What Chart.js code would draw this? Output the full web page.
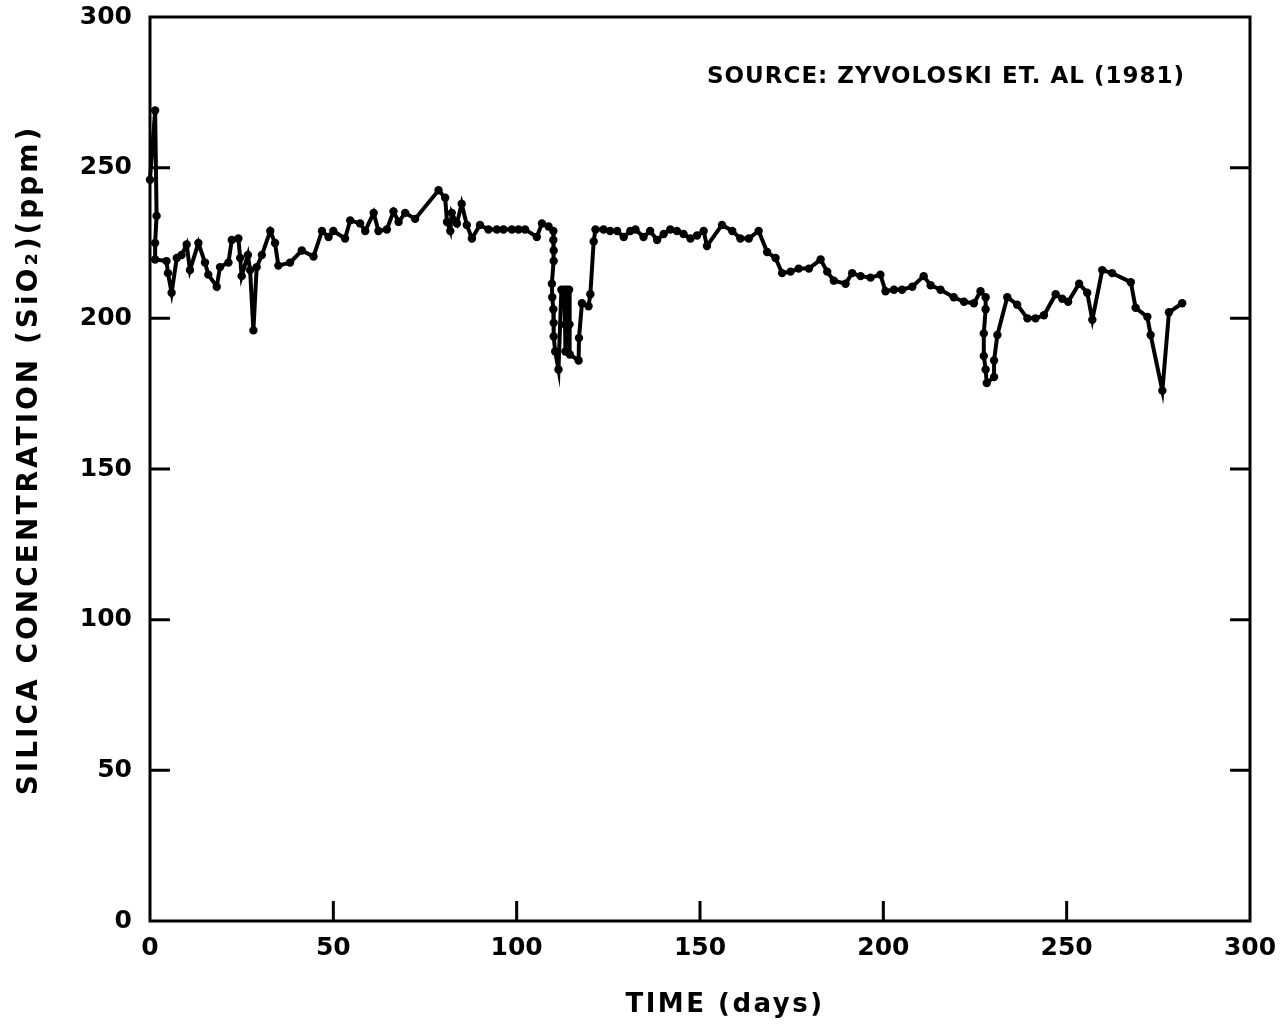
<!DOCTYPE html>
<html>
<head>
<meta charset="utf-8">
<script src="https://cdn.jsdelivr.net/npm/chart.js@4.4.1/dist/chart.umd.min.js"></script>
<style>
  html, body { margin: 0; padding: 0; background: #fff; }
  canvas { display: block; }
</style>
</head>
<body>
<canvas id="silicaChart" width="1282" height="1028"></canvas>
<script>
// Silica concentration vs time
const days = [
  0, 1.4, 1.8, 1.4, 1.4, 4.5, 4.9, 5.9, 7.3, 8.6,
  10.0, 10.9, 13.2, 15.0, 15.9, 18.2, 19.1, 21.4, 22.3, 24.1,
  24.6, 25.0, 26.7, 27.3, 28.2, 29.1, 30.5, 32.8, 34.1, 35.0,
  38.2, 41.4, 44.6, 46.9, 48.7, 50.0, 53.2, 54.6, 57.3, 58.7,
  61.0, 62.3, 64.6, 66.4, 67.8, 69.6, 72.3, 78.7, 80.5, 81.0,
  81.9, 82.3, 83.7, 85.0, 86.4, 87.8, 90.0, 92.3, 94.6, 96.4,
  98.7, 100.5, 102.3, 105.5, 106.9, 108.7, 110.0, 110.0, 110.1, 110.1,
  109.6, 109.7, 110.0, 110.1, 110.1, 110.5, 111.4, 112.2, 113.0, 113.2,
  113.3, 113.6, 114.3, 114.4, 114.5, 116.9, 117.0, 117.8, 119.6, 120.1,
  121.0, 121.5, 123.7, 125.5, 127.4, 129.2, 131.0, 132.4, 134.6, 136.4,
  138.3, 140.1, 141.9, 143.7, 145.5, 147.4, 149.2, 151.0, 151.9, 156.0,
  158.8, 161.0, 163.3, 166.0, 168.3, 170.6, 172.4, 174.7, 176.9, 179.7,
  182.9, 184.7, 186.5, 189.7, 191.5, 193.8, 196.5, 199.2, 200.6, 202.9,
  205.1, 207.9, 211.0, 212.9, 215.6, 219.2, 222.0, 224.7, 226.5, 227.9,
  227.9, 227.4, 227.4, 227.9, 228.2, 230.2, 230.2, 231.1, 233.8, 236.5,
  239.3, 241.5, 243.8, 247.0, 248.8, 250.4, 253.4, 255.6, 257.0, 259.7,
  262.4, 267.5, 268.8, 272.0, 272.9, 276.1, 277.9, 281.5
]
const silica = [
  246, 269, 234, 225, 219.5, 219, 215, 208.5, 220, 221,
  224.5, 216, 225, 218.5, 214.5, 210.5, 217, 218.5, 226, 226.5,
  220, 214, 221, 216, 196, 217, 221, 229, 225, 217.5,
  218.5, 222.5, 220.5, 229, 227, 229, 226.5, 232.5, 231.5, 229,
  235, 229, 229.5, 235.5, 232, 235, 233, 242.5, 240, 232,
  229, 235, 231.5, 238, 231, 226.5, 231, 229.5, 229.5, 229.5,
  229.5, 229.5, 229.5, 227, 231.5, 230.5, 229, 226, 222.5, 219,
  211.5, 207, 203, 198.5, 194, 189, 183, 209.5, 209.5, 198,
  189, 209.5, 209.5, 198, 188, 186, 193.5, 205, 204, 208,
  225.5, 229.5, 229.5, 229, 229, 227, 229, 229.5, 227, 229,
  226, 228, 229.5, 229, 228, 226.5, 227.5, 229, 224, 231,
  229, 226.5, 226.5, 229, 222, 220, 215, 215.5, 216.5, 216.5,
  219.5, 215.5, 212.5, 211.5, 215, 214, 213.5, 214.5, 209, 209.5,
  209.5, 210.5, 214, 211, 209.5, 207, 205.5, 205, 209, 207,
  203, 195, 187.5, 183, 178.5, 180.5, 186, 194.5, 207, 204.5,
  200, 200, 201, 208, 206.5, 205.5, 211.5, 208.5, 199.5, 216,
  215, 212, 203.5, 200.5, 194.5, 176, 202, 205
]

const xTicks = [0, 50, 100, 150, 200, 250, 300]
const yTicks = [0, 50, 100, 150, 200, 250, 300]

const xTitle = 'TIME (days)'
const yTitle = 'SILICA CONCENTRATION (SiO\u2082)(ppm)'
const sourceNote = 'SOURCE: ZYVOLOSKI ET. AL (1981)'

const FONT = '"DejaVu Sans", sans-serif'

// box around the plot, inward tick marks, titles
const framePlugin = {
  id: 'frame',
  afterDraw(chart) {
    const { ctx, chartArea: a, scales: { x, y } } = chart
    ctx.save()
    ctx.strokeStyle = '#000'
    ctx.lineWidth = 3
    ctx.lineCap = 'butt'
    ctx.strokeRect(a.left, a.top, a.right - a.left, a.bottom - a.top)

    ctx.beginPath()
    yTicks.forEach(v => {
      if (v === yTicks[0] || v === yTicks[yTicks.length - 1]) return
      const py = y.getPixelForValue(v)
      ctx.moveTo(a.left, py); ctx.lineTo(a.left + 20, py)
      ctx.moveTo(a.right, py); ctx.lineTo(a.right - 20, py)
    })
    xTicks.forEach(v => {
      if (v === xTicks[0] || v === xTicks[xTicks.length - 1]) return
      const px = x.getPixelForValue(v)
      ctx.moveTo(px, a.bottom); ctx.lineTo(px, a.bottom - 20)
    })
    ctx.stroke()

    ctx.fillStyle = '#000'
    ctx.textBaseline = 'middle'

    ctx.font = 'bold 26px ' + FONT
    ctx.letterSpacing = '2.5px'
    ctx.textAlign = 'center'
    ctx.fillText(xTitle, 725, 1005)

    ctx.save()
    ctx.font = 'bold 28px ' + FONT
    ctx.letterSpacing = '3px'
    ctx.translate(30, 460)
    ctx.rotate(-Math.PI / 2)
    ctx.fillText(yTitle, 0, 0)
    ctx.restore()

    ctx.font = 'bold 23px ' + FONT
    ctx.letterSpacing = '1px'
    ctx.textAlign = 'left'
    ctx.fillText(sourceNote, 707, 77)
    ctx.restore()
  }
}

const ctx = document.getElementById('silicaChart')
new Chart(ctx, {
  type: 'scatter',
  data: {
    datasets: [{
      label: 'SiO2',
      data: days.map((d, i) => ({ x: d, y: silica[i] })),
      showLine: true,
      borderColor: '#000',
      borderWidth: 4,
      pointRadius: 4.2,
      pointBackgroundColor: '#000',
      pointBorderColor: '#000',
      pointBorderWidth: 0,
      clip: false
    }]
  },
  options: {
    responsive: false,
    animation: false,
    events: [],
    layout: { padding: { top: 17, right: 32, left: 0, bottom: 0 } },
    plugins: {
      legend: { display: false },
      tooltip: { enabled: false }
    },
    scales: {
      x: {
        type: 'linear',
        min: 0,
        max: 300,
        afterBuildTicks: s => { s.ticks = xTicks.map(v => ({ value: v })) },
        afterFit: s => { s.height = 107; s.paddingLeft = 0; s.paddingRight = 0 },
        grid: { display: false, drawTicks: false },
        border: { display: false },
        ticks: { color: '#000', padding: 12, maxRotation: 0, font: { family: FONT, size: 25, weight: 'bold' } }
      },
      y: {
        type: 'linear',
        min: 0,
        max: 300,
        afterBuildTicks: s => { s.ticks = yTicks.map(v => ({ value: v })) },
        afterFit: s => { s.width = 150; s.paddingTop = 0; s.paddingBottom = 0 },
        grid: { display: false, drawTicks: false },
        border: { display: false },
        ticks: { color: '#000', padding: 18, font: { family: FONT, size: 25, weight: 'bold' } }
      }
    }
  },
  plugins: [framePlugin]
})
</script>
</body>
</html>
